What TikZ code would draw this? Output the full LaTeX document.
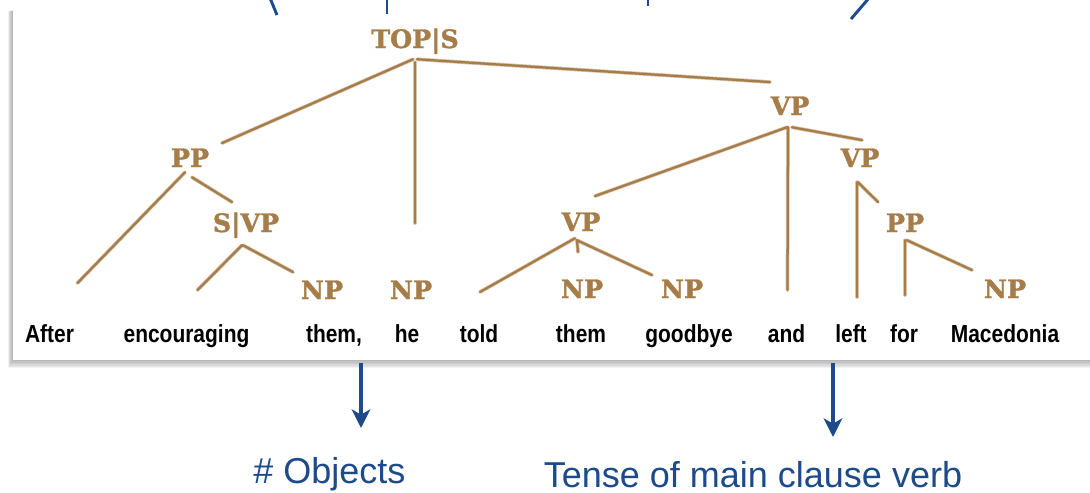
\documentclass[tikz,border=0pt]{standalone}
\usepackage{fontspec}
\setmainfont{Liberation Sans}
\newfontfamily\wordfont[FakeStretch=0.85]{Liberation Sans}
\newfontfamily\labfont[BoldFeatures={FakeBold=1.3}]{DejaVu Serif}
\usetikzlibrary{calc,arrows.meta}
\definecolor{treebrown}{RGB}{166,124,72}
\definecolor{noteblue}{RGB}{28,74,138}
\begin{document}
\begin{tikzpicture}[x=0.75pt,y=-0.75pt,
 lab/.style={font=\labfont\bfseries\fontsize{19}{20}\selectfont, text=treebrown, inner sep=0pt, text height=14pt, text depth=0pt, anchor=base},
 word/.style={font=\wordfont\bfseries\fontsize{18.5}{20}\selectfont, inner sep=0pt, text height=13.3pt, text depth=0pt, anchor=base},
 edge/.style={draw=treebrown, line width=1.7pt, line cap=round,
   preaction={draw=treebrown, line width=2.8pt, opacity=0.45, line cap=round}},
 note/.style={font=\fontsize{27}{30}\selectfont, text=noteblue, inner sep=0pt, anchor=base},
 pointer/.style={draw=noteblue, line width=2.6pt, -{Stealth[length=14pt,width=14pt,inset=4pt]}},
 partline/.style={draw=noteblue, line width=2.2pt}]
\useasboundingbox (0,0) rectangle (1090,493);
\fill[white] (0,0) rectangle (1090,493);
% panel with shadow
\foreach \i in {1,...,6}
  \fill[black, opacity=0.05] (13-\i*0.9, 10+\i*0.2) rectangle (1095, 360+\i*1.4);
\fill[white] (13,10) rectangle (1095,360);
% partial lines at top
\coordinate (t1a) at (270,-2); \coordinate (t1b) at (277,15);
\coordinate (t2a) at (387,-2); \coordinate (t2b) at (387,14);
\coordinate (t3a) at (648,-2); \coordinate (t3b) at (648,6);
\coordinate (t4a) at (869,-2); \coordinate (t4b) at (851,19);
\draw[partline] (t1a) -- (t1b);
\draw[partline] (t2a) -- (t2b);
\draw[partline] (t3a) -- (t3b);
\draw[partline] (t4a) -- (t4b);
% labels
\node[lab] (top) at (415,48) {TOP|S};
\node[lab] (pp1) at (190,167) {PP};
\node[lab] (svp) at (246,232) {S|VP};
\node[lab] (np1) at (322,299) {NP};
\node[lab] (np2) at (411,299) {NP};
\node[lab] (vp1) at (790,115) {VP};
\node[lab] (vp2) at (860,167) {VP};
\node[lab] (vp3) at (581,231) {VP};
\node[lab] (pp2) at (905,232) {PP};
\node[lab] (np3) at (582,298) {NP};
\node[lab] (np4) at (682,298) {NP};
\node[lab] (np5) at (1005,298) {NP};
% words
\node[word] (w1) at (49.5,342) {After};
\node[word] (w2) at (186.5,342) {encouraging};
\node[word] (w3) at (334,342) {them,};
\node[word] (w4) at (407,342) {he};
\node[word] (w5) at (479,342) {told};
\node[word] (w6) at (581,342) {them};
\node[word] (w7) at (689,342) {goodbye};
\node[word] (w8) at (786.5,342) {and};
\node[word] (w9) at (851,342) {left};
\node[word] (w10) at (904,342) {for};
\node[word] (w11) at (1005,342) {Macedonia};
% tree edges
\draw[edge] ($(top.south)+(-2,11)$) -- ($(pp1.north)+(32,-5)$);
\draw[edge] ($(top.south)+(0,14)$) -- ($(np2.north)+(4,-57)$);
\draw[edge] ($(top.south)+(2,11)$) -- ($(vp1.north)+(-20,-14)$);
\draw[edge] ($(pp1.south)+(-5,5)$) -- ($(w1.north)+(28,-41)$);
\draw[edge] ($(pp1.south)+(2,10)$) -- ($(svp.north)+(-14,-11)$);
\draw[edge] ($(svp.south)+(-4,13)$) -- ($(w2.north)+(11,-34)$);
\draw[edge] ($(svp.south)+(-3,13)$) -- ($(np1.north)+(-29,-8)$);
\draw[edge] ($(vp1.south)+(-3,12)$) -- ($(vp3.north)+(14,-16)$);
\draw[edge] ($(vp1.south)+(-2,12)$) -- ($(w8.north)+(1,-34)$);
\draw[edge] ($(vp1.south)+(2,12)$) -- ($(vp2.north)+(2,-8)$);
\draw[edge] ($(vp2.south)+(-3,15)$) -- ($(w9.north)+(6,-27)$);
\draw[edge] ($(vp2.south)+(-2,15)$) -- ($(pp2.north)+(-27,-11)$);
\draw[edge] ($(vp3.south)+(-6,7)$) -- ($(w5.north)+(1,-32)$);
\draw[edge] ($(vp3.south)+(-4,9)$) -- ($(np3.north)+(-4,-27)$);
\draw[edge] ($(vp3.south)+(-4,9)$) -- ($(np4.north)+(-30,-4)$);
\draw[edge] ($(pp2.south)+(0,8)$) -- ($(w10.north)+(1,-29)$);
\draw[edge] ($(pp2.south)+(2,8)$) -- ($(np5.north)+(-33,-9)$);
% notes
\node[note] (obj) at (329.5,483) {\# Objects};
\node[note] (tense) at (753,487.5) {Tense of main clause verb};
\coordinate (a1s) at (361,363); \coordinate (a1e) at (361,428);
\coordinate (a2s) at (833,363); \coordinate (a2e) at (833,437);
\draw[pointer] (a1s) -- (a1e);
\draw[pointer] (a2s) -- (a2e);
\end{tikzpicture}
\end{document}
